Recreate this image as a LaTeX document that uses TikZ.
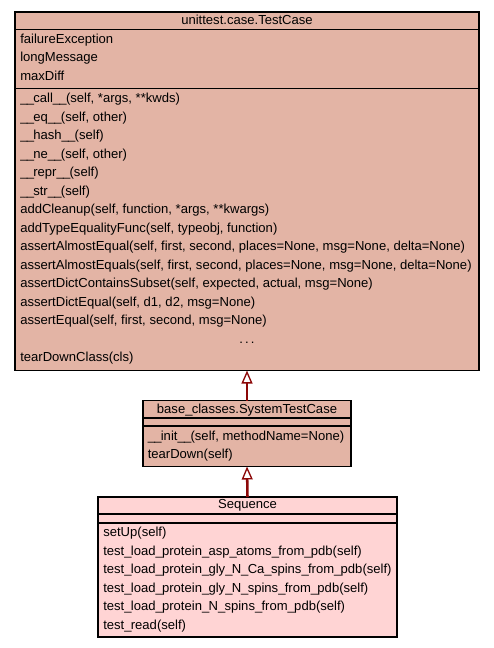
\documentclass[tikz,border=0pt]{standalone}
\usepackage{fontspec}
\setmainfont{Liberation Sans}
\usepackage{tikz}
\usetikzlibrary{arrows.meta,positioning}
\usepackage{xcolor}
\definecolor{basefill}{RGB}{227,180,165}
\definecolor{leaffill}{RGB}{255,212,212}
\definecolor{inhred}{RGB}{140,8,8}
\newcommand{\us}{\_\kern-0.55pt}
\tikzset{
  clsbox/.style={draw=black,line width=1.1pt,anchor=north west,inner sep=0pt,outer sep=0pt},
  row/.style={anchor=base west,inner sep=0pt,font=\fontsize{9.8}{11}\selectfont},
  ttl/.style={anchor=base,inner sep=0pt,font=\fontsize{9.8}{11}\selectfont},
  inherit/.style={draw=inhred,line width=1.9pt,-{Triangle[open,length=9.75pt,width=8.2pt,line width=1pt]}}
}
\begin{document}
\begin{tikzpicture}[x=0.75pt,y=-0.75pt]
\fill[white] (0,0) rectangle (493,648);
\useasboundingbox (0,0) rectangle (493,648);
% unittest.case.TestCase
\node[clsbox,fill=basefill,minimum width=348pt,minimum height=268.9pt] (testcase) at (15,12) {};
\draw[line width=1.1pt] (15,29.5) -- (479,29.5);
\draw[line width=1.1pt] (15,88.5) -- (479,88.5);
\node[ttl] (tctitle) at (247,24.5) {unittest.case.TestCase};
\foreach \t [count=\i from 0] in {failureException,longMessage,maxDiff}{
  \node[row] (tca\i) at (20,{43.5+\i*18.5}) {\t};}
\foreach \t [count=\i from 0] in {{\us\us call\us\us(self, *args, **kwds)},{\us\us eq\us\us(self, other)},{\us\us hash\us\us(self)},{\us\us ne\us\us(self, other)},{\us\us repr\us\us(self)},{\us\us str\us\us(self)},{addCleanup(self, function, *args, **kwargs)},{addTypeEqualityFunc(self, typeobj, function)},{assertAlmostEqual(self, first, second, places=None, msg=None, delta=None)},{assertAlmostEquals(self, first, second, places=None, msg=None, delta=None)},{assertDictContainsSubset(self, expected, actual, msg=None)},{assertDictEqual(self, d1, d2, msg=None)},{assertEqual(self, first, second, msg=None)}}{
  \node[row] (tcm\i) at (20,{102.7+\i*18.5}) {\t};}
\node[ttl] (tcdots) at (247,343.2) {.\,.\,.};
\node[row] (tcm14) at (20,361.7) {tearDownClass(cls)};
% base_classes.SystemTestCase
\node[clsbox,fill=basefill,minimum width=156pt,minimum height=49.5pt] (system) at (143,400.5) {};
\draw[line width=1.1pt] (143,418) -- (351,418);
\draw[line width=1.1pt] (143,426) -- (351,426);
\node[ttl] (sytitle) at (247,413.3) {base\us classes.SystemTestCase};
\node[row] (sym0) at (147.5,440) {\us\us init\us\us(self, methodName=None)};
\node[row] (sym1) at (147.5,458.5) {tearDown(self)};
% Sequence
\node[clsbox,fill=leaffill,minimum width=224.25pt,minimum height=105pt] (sequence) at (98,497) {};
\draw[line width=1.1pt] (98,514) -- (397,514);
\draw[line width=1.1pt] (98,523) -- (397,523);
\node[ttl] (sqtitle) at (247.5,508.5) {Sequence};
\foreach \t [count=\i from 0] in {setUp(self),test\us load\us protein\us asp\us atoms\us from\us pdb(self),test\us load\us protein\us gly\us N\us Ca\us spins\us from\us pdb(self),test\us load\us protein\us gly\us N\us spins\us from\us pdb(self),test\us load\us protein\us N\us spins\us from\us pdb(self),test\us read(self)}{
  \node[row] (sqm\i) at (103,{536.7+\i*18.5}) {\t};}
% inheritance
\draw[inherit] (system.north) -- (testcase.south -| system.north);
\draw[inherit] (sequence.north) -- (system.south);
\end{tikzpicture}
\end{document}
